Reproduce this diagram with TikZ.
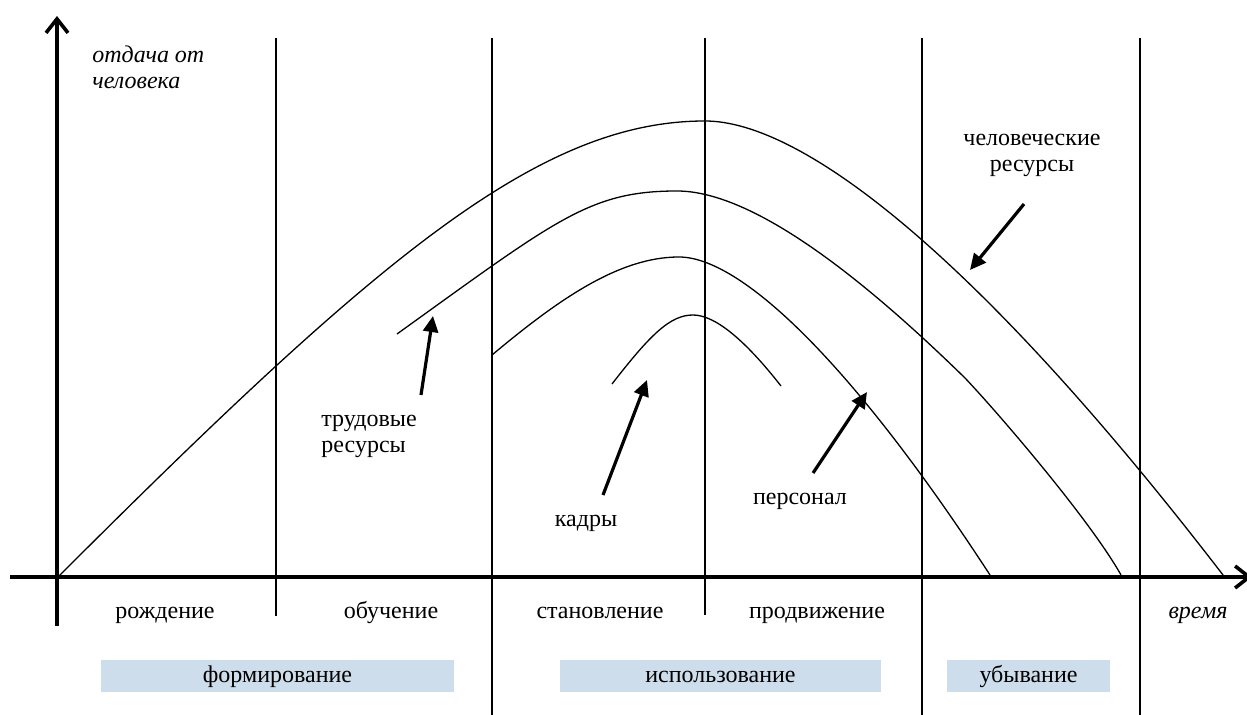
\documentclass[tikz,border=0pt]{standalone}
\usepackage{fontspec}
\setmainfont{Liberation Serif}
\usepackage{xcolor}
\usepackage{tikz}
\usetikzlibrary{arrows.meta}
\definecolor{phasebg}{HTML}{CEDDEC}

\begin{document}
\fontsize{12}{13}\selectfont
\begin{tikzpicture}[
    x=0.5pt, y=-0.5pt,
    axis/.style={line width=1.8pt, -{Straight Barb[length=7pt,width=11pt]}},
    divider/.style={line width=0.8pt},
    curve/.style={line width=0.65pt},
    pointer/.style={line width=1.6pt, -{Triangle[length=8pt,width=7.5pt]}},
    label/.style={inner sep=0pt, anchor=base},
    phase/.style={fill=phasebg, inner sep=0pt, minimum height=16pt, text height=8.5pt, text depth=2.5pt}
]
\useasboundingbox (0,0) rectangle (1247,715);

\draw[divider] (276,38) -- (276,616);
\draw[divider] (492,38) -- (492,715);
\draw[divider] (705,38) -- (705,615);
\draw[divider] (922,38) -- (922,715);
\draw[divider] (1140,38) -- (1140,715);

\draw[axis] (57,626) -- (57,16);
\draw[axis] (10,577) -- (1252,577);

\draw[curve] (58,577) .. controls (380,255) and (540,121) .. (705,121)
    .. controls (800,121) and (973,250) .. (1223,575);
\draw[curve] (397,334) .. controls (557,219) and (590,191) .. (677,191)
    .. controls (760,191) and (880,295) .. (965,378)
    .. controls (1000,415) and (1090,520) .. (1121,575);
\draw[curve] (492,355) .. controls (560,298) and (620,257) .. (679,257)
    .. controls (740,257) and (850,360) .. (990,575);
\draw[curve] (612,384) .. controls (650,335) and (670,315) .. (693,315)
    .. controls (715,315) and (745,340) .. (781,386);

\node[label, anchor=base west, align=left, font=\itshape] (ylab) at (92,89) {отдача от\\человека};
\node[label, font=\itshape] (xlab) at (1198,618) {время};

\node[label, align=center] (hr) at (1032,172) {человеческие\\ресурсы};
\node[label, anchor=base west, align=left] (labour) at (321,453) {трудовые\\ресурсы};
\node[label] (cadre) at (586,527) {кадры};
\node[label] (staff) at (800,505) {персонал};

\node[label] (birth) at (165,618) {рождение};
\node[label] (study) at (391,618) {обучение};
\node[label] (growth) at (600,618) {становление};
\node[label] (promo) at (817,618) {продвижение};

\node[phase, minimum width=176.5pt] (form) at (277.5,676) {формирование};
\node[phase, minimum width=160.5pt] (usage) at (720.5,676) {использование};
\node[phase, minimum width=81.5pt] (decline) at (1028.5,676) {убывание};

\coordinate (hr-tail) at (1024,204);
\coordinate (hr-tip) at (970,270);
\coordinate (labour-tail) at (421,395);
\coordinate (labour-tip) at (433,316);
\coordinate (cadre-tail) at (603,495);
\coordinate (cadre-tip) at (647,380);
\coordinate (staff-tail) at (813,473);
\coordinate (staff-tip) at (867,392);

\draw[pointer] (hr-tail) -- (hr-tip);
\draw[pointer] (labour-tail) -- (labour-tip);
\draw[pointer] (cadre-tail) -- (cadre-tip);
\draw[pointer] (staff-tail) -- (staff-tip);
\end{tikzpicture}
\end{document}
